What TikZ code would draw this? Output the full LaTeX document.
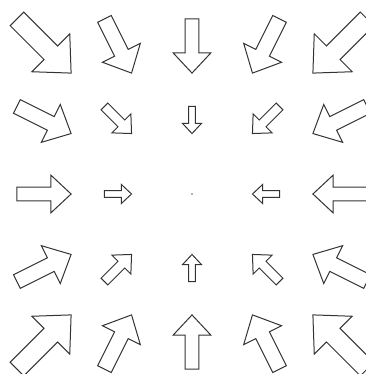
\documentclass[tikz,border=0pt]{standalone}
\begin{document}
\begin{tikzpicture}[x=1pt,y=1pt,
  arrowshape/.style={draw=black!80, line width=1pt, fill=white, line join=miter}]
\useasboundingbox (0,0) rectangle (365,374);
\foreach \i in {-2,...,2}{
  \foreach \j in {-2,...,2}{
    \pgfmathsetmacro\r{sqrt(\i*\i+\j*\j)}
    \pgfmathsetmacro\cx{192+74*\i}
    \pgfmathsetmacro\cy{180+74*\j}
    \ifdim\r pt>0.1pt
      \pgfmathsetmacro\ang{atan2(-\j,-\i)}
      \pgfmathsetmacro\L{27.1*\r}
      \begin{scope}[shift={(\cx,\cy)}, rotate=\ang]
        \draw[arrowshape] (-0.5*\L,-0.125*\L) -- (0.125*\L,-0.125*\L)
          -- (0.125*\L,-0.35*\L) -- (0.5*\L,0) -- (0.125*\L,0.35*\L)
          -- (0.125*\L,0.125*\L) -- (-0.5*\L,0.125*\L) -- cycle;
      \end{scope}
    \else
      \fill[black!60] (\cx,\cy) circle (0.9);
    \fi
  }
}
\end{tikzpicture}
\end{document}
